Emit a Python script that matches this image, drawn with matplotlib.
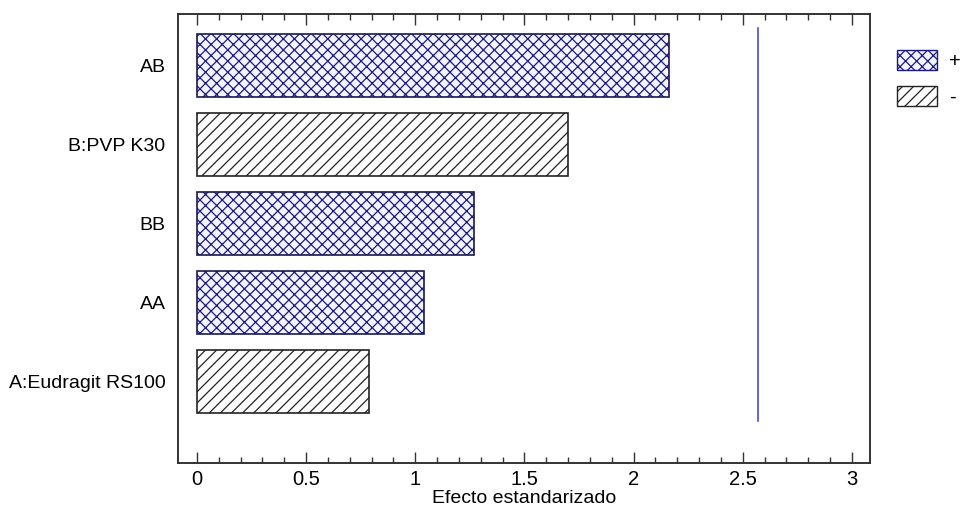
import matplotlib.pyplot as plt
from matplotlib.patches import Patch
from matplotlib.ticker import MultipleLocator

plt.rcParams['font.family'] = ['Liberation Sans', 'DejaVu Sans']
plt.rcParams['hatch.linewidth'] = 0.9

# data (bottom to top)
factors = ['A:Eudragit RS100', 'AA', 'BB', 'B:PVP K30', 'AB']
effects = [0.79, 1.04, 1.27, 1.70, 2.16]
signs = ['-', '+', '+', '-', '+']
t_crit = 2.57

navy = '#1a1a80'
styles = {'+': dict(hatch='xxx', fc='#f4f4ff', hc=navy, ec='#1a1a50'),
          '-': dict(hatch='///', fc='white', hc='#222222', ec='#222222')}

fig = plt.figure(figsize=(9.61, 5.08), dpi=100)
ax = fig.add_axes([0.1852, 0.0886, 0.7201, 0.8838])

pos = range(len(factors))
for y, v, s in zip(pos, effects, signs):
    st = styles[s]
    ax.barh(y, v, height=0.8, color=st['fc'], hatch=st['hatch'],
            edgecolor=st['hc'], linewidth=0)
    ax.barh(y, v, height=0.8, fill=False, edgecolor=st['ec'], linewidth=1.2)

ax.plot([t_crit, t_crit], [-0.5, 4.47], color='#3c3cc8', linewidth=1.1)

ax.set_xlim(-0.087, 3.083)
ax.set_ylim(-1.03, 4.65)
ax.set_yticks(list(pos))
ax.set_yticklabels(factors, fontsize=14)
ax.tick_params(axis='y', length=0, pad=9)
ax.xaxis.set_minor_locator(MultipleLocator(0.1))
ax.set_xticks([0, 0.5, 1, 1.5, 2, 2.5, 3])
ax.set_xticklabels(['0', '0.5', '1', '1.5', '2', '2.5', '3'], fontsize=14.5)
ax.tick_params(axis='x', which='major', direction='in', length=8, width=1,
               top=True, pad=5, color='#333333')
ax.tick_params(axis='x', which='minor', direction='in', length=4, width=1,
               top=True, color='#333333')
for sp in ax.spines.values():
    sp.set_color('#333333')
    sp.set_linewidth(1.4)
ax.set_xlabel('Efecto estandarizado', fontsize=14, labelpad=1)

handles = [Patch(facecolor='#f4f4ff', edgecolor=navy, hatch='xxx', linewidth=1),
           Patch(facecolor='white', edgecolor='#222222', hatch='///', linewidth=1)]
ax.legend(handles, ['+', '-'], loc='upper left', bbox_to_anchor=(1.027, 0.938),
          frameon=False, fontsize=14.5, handlelength=2.0, handleheight=1.15,
          labelspacing=0.75, handletextpad=0.6, borderaxespad=0)

fig.savefig('out.png', dpi=100)
